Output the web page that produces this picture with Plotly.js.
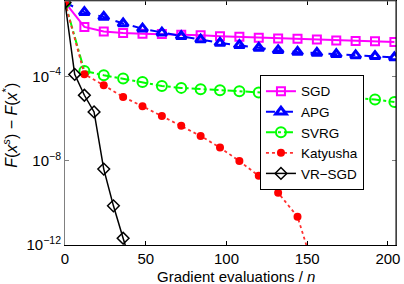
<!DOCTYPE html>
<html>
<head>
<meta charset="utf-8">
<script src="https://cdn.plot.ly/plotly-3.0.1.min.js"></script>
<style>html,body{margin:0;padding:0;background:#fff;}#chart{width:404px;height:284px;}</style>
</head>
<body>
<div id="chart"></div>
<script>
// Gradient evaluations / n
const xMain = [0,12,24,36,48,60,72,84,96,108,120,132,144,156,168,180,192,204];
const xKat = [0,12,24,36,48,60,72,84,96,108,120,132,144,156];
const xVR = [0,6,12,18,24,30,36,42];

// F(x^s) - F(x*)
const sgd = [0.316,0.0219,0.0132,0.0112,0.0105,0.0100,0.00933,0.00871,0.00794,0.00741,0.00676,0.00617,0.00603,0.00550,0.00501,0.00468,0.00457,0.00417];
const apg = [0.316,0.1096,0.0646,0.0316,0.0182,0.01175,0.00794,0.00550,0.00380,0.00295,0.00219,0.00170,0.00141,0.00126,0.00110,0.000977,0.000891,0.000776];
const svrg = [0.316,1.78e-4,1.12e-4,7.76e-5,5.37e-5,3.47e-5,2.82e-5,2.40e-5,2.19e-5,1.95e-5,1.70e-5,1.51e-5,1.35e-5,1.20e-5,1.07e-5,9.3e-6,7.9e-6,6.0e-6];
const katyusha = [0.316,1.26e-4,3.72e-5,1.05e-5,3.8e-6,1.32e-6,4.47e-7,1.48e-7,4.17e-8,9.5e-9,1.9e-9,3.0e-10,2.2e-11,2.5e-14];
const vrsgd = [0.316,1.23e-4,1.26e-5,2.04e-6,3.98e-9,7.2e-11,2.1e-12,6.3e-14];

const xTicks = [0,50,100,150,200];
const yTicks = [1e-12,1e-8,1e-4];
const yTickText = ['10<sup>−12</sup>','10<sup>−8</sup>','10<sup>−4</sup>'];

const traces = [
  {x:xMain, y:sgd, name:'SGD', type:'scatter', mode:'lines+markers',
   line:{color:'#ff00ff', width:2}, marker:{symbol:'square-open', size:8, color:'#ff00ff', line:{width:2}}},
  {x:xMain, y:apg, name:'APG', type:'scatter', mode:'lines+markers',
   line:{color:'#0000ff', width:2, dash:'dash'}, marker:{symbol:'triangle-up-open', size:9, color:'#0000ff', line:{width:3}}},
  {x:xMain, y:svrg, name:'SVRG', type:'scatter', mode:'lines+markers',
   line:{color:'#00ff00', width:2, dash:'dashdot'}, marker:{symbol:'circle-open', size:10, color:'#00ff00', line:{width:2}}},
  {x:xKat, y:katyusha, name:'Katyusha', type:'scatter', mode:'lines+markers',
   line:{color:'#ff3030', width:1.8, dash:'dot'}, marker:{symbol:'circle', size:8, color:'#ff0000'}},
  {x:xVR, y:vrsgd, name:'VR−SGD', type:'scatter', mode:'lines+markers',
   line:{color:'#000000', width:1.5}, marker:{symbol:'diamond-open', size:9, color:'#000000', line:{width:1.5}}}
];

const font = {family:'"Liberation Sans", Arial, sans-serif', size:15, color:'#000'};
const legFont = {family:'"Liberation Sans", Arial, sans-serif', size:13.5, color:'#000'};

const layout = {
  width:404, height:284,
  margin:{l:65, r:8, t:1, b:39},
  paper_bgcolor:'#fff', plot_bgcolor:'#fff',
  font: font,
  showlegend:true,
  legend:{x:0.589, y:0.697, xanchor:'left', yanchor:'top', bgcolor:'#fff', bordercolor:'#000', borderwidth:1,
          font:legFont, tracegroupgap:0},
  xaxis:{range:[0,205], tickvals:xTicks, ticks:'inside', ticklen:4, tickcolor:'#000',
         showline:true, linecolor:'#000', linewidth:1, mirror:'ticks', showgrid:false, zeroline:false,
         tickfont:font},
  yaxis:{type:'log', range:[-12,-0.43], tickvals:yTicks, ticktext:yTickText, ticks:'inside', ticklen:4,
         tickcolor:'#808080', showline:true, linecolor:'#808080', linewidth:1, mirror:'ticks', showgrid:false,
         zeroline:false, tickfont:font},
  shapes:[
    {type:'line', xref:'paper', yref:'paper', x0:0, x1:1, y0:1, y1:1, line:{color:'#808080', width:1}},
    {type:'line', xref:'paper', yref:'paper', x0:1, x1:1, y0:0, y1:1, line:{color:'#000', width:1}}
  ],
  annotations:[
    {xref:'paper', yref:'paper', x:-0.165, y:0.49, xanchor:'center', yanchor:'middle', textangle:-90, showarrow:false,
     text:'<i>F</i>(<i>x</i><sup><i>s</i></sup>) − <i>F</i>(<i>x</i><sup>*</sup>)', font:{family:font.family, size:16, color:'#000'}},
    {xref:'paper', yref:'paper', x:0.517, y:-0.128, xanchor:'center', yanchor:'middle', showarrow:false,
     text:'Gradient evaluations / <i>n</i>', font:font}
  ]
};

Plotly.newPlot('chart', traces, layout, {displayModeBar:false, staticPlot:true});
</script>
</body>
</html>
